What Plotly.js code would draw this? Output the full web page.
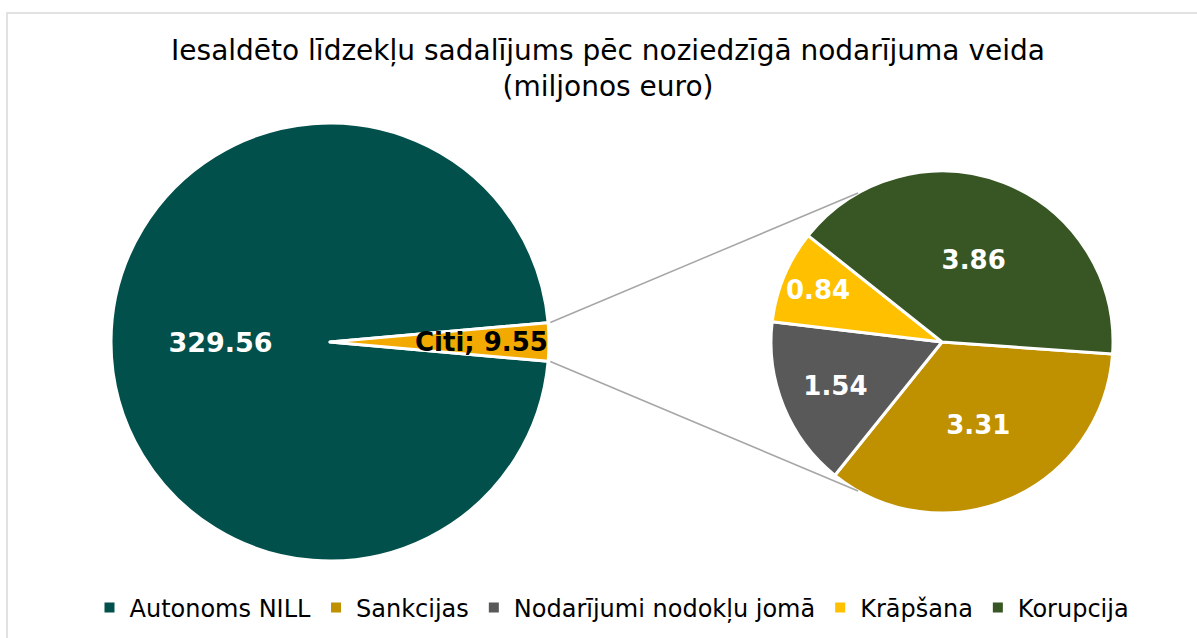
<!DOCTYPE html>
<html>
<head>
<meta charset="utf-8">
<script src="https://cdn.plot.ly/plotly-3.0.1.min.js"></script>
<style>
  html, body { margin: 0; padding: 0; background: #fff; }
  #chart { width: 1197px; height: 638px; }
</style>
</head>
<body>
<div id="chart"></div>
<script>
// ---- data ----
const titleLines = ['Iesaldēto līdzekļu sadalījums pēc noziedzīgā nodarījuma veida', '(miljonos euro)'];
const mainLabels = ['Autonoms NILL', 'Citi'];
const mainValues = [329.56, 9.55];
const subLabels = ['Sankcijas', 'Nodarījumi nodokļu jomā', 'Krāpšana', 'Korupcija'];
const subValues = [3.31, 1.54, 0.84, 3.86];
const legendLabels = ['Autonoms NILL', 'Sankcijas', 'Nodarījumi nodokļu jomā', 'Krāpšana', 'Korupcija'];

// ---- styles ----
const mainColors = ['#02504B', '#F2A900'];
const subColors = ['#BF9000', '#595959', '#FFC000', '#375623'];
const legendColors = ['#02504B', '#BF9000', '#595959', '#FFC000', '#375623'];
const FONT = '"DejaVu Sans", Verdana, sans-serif';

const W = 1197, H = 638;
const L = {cx: 330, cy: 342, r: 219};
const R = {cx: 942, cy: 342, r: 171};
function domainOf(p) {
  return {x: [(p.cx - p.r) / W, (p.cx + p.r) / W], y: [(H - p.cy - p.r) / H, (H - p.cy + p.r) / H]};
}
const px = x => x / W, py = y => (H - y) / H;

const mainTotal = mainValues.reduce((a, b) => a + b, 0);
const citiDeg = mainValues[1] / mainTotal * 360;
const mainRotation = 90 + citiDeg / 2;
const subRotation = 94;

function pt(p, deg, f) {
  const a = deg * Math.PI / 180;
  return [p.cx + f * p.r * Math.sin(a), p.cy - f * p.r * Math.cos(a)];
}

const traces = [
  {
    type: 'pie', labels: mainLabels, values: mainValues, sort: false,
    direction: 'clockwise', rotation: mainRotation, domain: domainOf(L),
    marker: {colors: mainColors, line: {color: '#ffffff', width: 3}},
    texttemplate: ['%{value:.2f}', ''], textposition: 'inside',
    insidetextorientation: 'horizontal',
    textfont: {family: FONT, size: 27, color: '#ffffff', weight: 'bold'},
    showlegend: false, hoverinfo: 'label+value'
  },
  {
    type: 'pie', labels: subLabels, values: subValues, sort: false,
    direction: 'clockwise', rotation: subRotation, domain: domainOf(R),
    marker: {colors: subColors, line: {color: '#ffffff', width: 3}},
    texttemplate: '%{value:.2f}', textposition: 'inside',
    insidetextorientation: 'horizontal',
    textfont: {family: FONT, size: 26, color: '#ffffff', weight: 'bold'},
    showlegend: false, hoverinfo: 'label+value'
  }
];
legendLabels.forEach((lab, i) => {
  traces.push({
    type: 'scatter', mode: 'markers', x: [null], y: [null], name: lab,
    marker: {symbol: 'square', size: 10, color: legendColors[i]},
    showlegend: true, hoverinfo: 'skip'
  });
});

// connector lines computed from the pie geometry
const up1 = pt(L, 90 - citiDeg / 2, 1.01), lo1 = pt(L, 90 + citiDeg / 2, 1.01);
const up2 = pt(R, -29.4, 1.0), lo2 = pt(R, 209.4, 1.0);
const shapes = [
  {type: 'line', xref: 'paper', yref: 'paper', x0: px(up1[0]), y0: py(up1[1]), x1: px(up2[0]), y1: py(up2[1]),
   line: {color: '#A6A6A6', width: 1.5}},
  {type: 'line', xref: 'paper', yref: 'paper', x0: px(lo1[0]), y0: py(lo1[1]), x1: px(lo2[0]), y1: py(lo2[1]),
   line: {color: '#A6A6A6', width: 1.5}},
  {type: 'rect', xref: 'paper', yref: 'paper', x0: px(7), y0: -0.05, x1: 1.05, y1: py(13),
   line: {color: '#D9D9D9', width: 1.5}, fillcolor: 'rgba(0,0,0,0)', layer: 'below'}
];

const citiPos = pt(L, 90, 0.69);
const annotations = [
  {xref: 'paper', yref: 'paper', x: px(citiPos[0]), y: py(citiPos[1]),
   text: mainLabels[1] + '; ' + mainValues[1].toFixed(2), showarrow: false,
   xanchor: 'center', yanchor: 'middle',
   font: {family: FONT, size: 26, color: '#000000', weight: 'bold'}}
];

const layout = {
  width: W, height: H,
  margin: {l: 0, r: 0, t: 0, b: 0},
  paper_bgcolor: '#ffffff', plot_bgcolor: '#ffffff',
  title: {
    text: titleLines.join('<br>'),
    font: {family: FONT, size: 28, color: '#000000'},
    x: 608 / W, xanchor: 'center', xref: 'container',
    y: 1 - 60 / H, yanchor: 'top', yref: 'container'
  },
  xaxis: {visible: false}, yaxis: {visible: false},
  showlegend: true,
  legend: {
    orientation: 'h', x: 612 / W, xanchor: 'center', y: py(608), yanchor: 'middle',
    font: {family: FONT, size: 24, color: '#000000'}, bgcolor: 'rgba(0,0,0,0)'
  },
  shapes: shapes,
  annotations: annotations
};

Plotly.newPlot('chart', traces, layout, {displayModeBar: false, staticPlot: true});
</script>
</body>
</html>
